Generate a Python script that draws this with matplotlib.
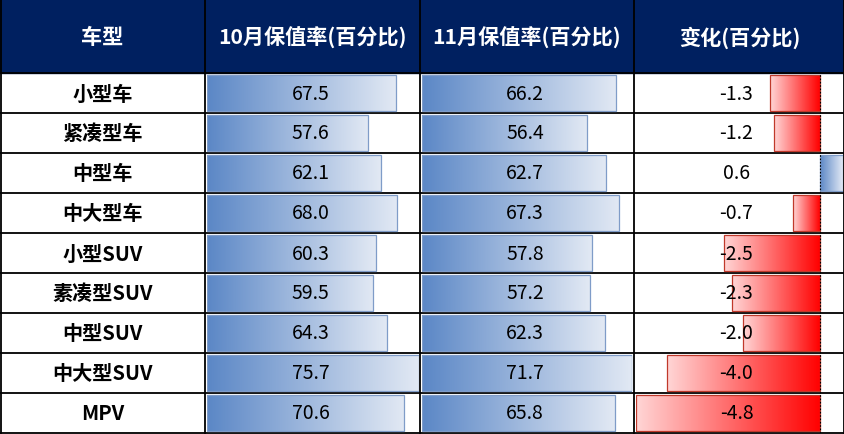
import matplotlib
matplotlib.use('Agg')
import matplotlib.pyplot as plt
import numpy as np
from matplotlib.colors import LinearSegmentedColormap
from matplotlib.patches import Rectangle

categories = ['小型车', '紧凑型车', '中型车', '中大型车', '小型SUV', '素凑型SUV', '中型SUV', '中大型SUV', 'MPV']
oct_rate = [67.5, 57.6, 62.1, 68.0, 60.3, 59.5, 64.3, 75.7, 70.6]
nov_rate = [66.2, 56.4, 62.7, 67.3, 57.8, 57.2, 62.3, 71.7, 65.8]
change = [-1.3, -1.2, 0.6, -0.7, -2.5, -2.3, -2.0, -4.0, -4.8]
headers = ['车型', '10月保值率(百分比)', '11月保值率(百分比)', '变化(百分比)']

plt.rcParams['font.family'] = ['Noto Sans CJK SC', 'DejaVu Sans']

W, H = 845, 435
HEADER_H = 74
ROW_H = 40
n = len(categories)
col_edges = [0, 205, 420, 634, 845]
NAVY = '#002060'

fig = plt.figure(figsize=(W / 100, H / 100), dpi=100)
bg = fig.add_axes([0, 0, 1, 1])
bg.set_xlim(0, W)
bg.set_ylim(H, 0)
bg.axis('off')

# header background
bg.add_patch(Rectangle((0, 0), W, HEADER_H, color=NAVY, zorder=0))

blue_cmap = LinearSegmentedColormap.from_list('b', ['#5B87C6', '#E2E9F4'])
red_cmap = LinearSegmentedColormap.from_list('r', ['#FF0000', '#FFD6D6'])
grad = np.linspace(0, 1, 256).reshape(1, -1)

table_bottom = HEADER_H + n * ROW_H


def bar_axes(x0, x1):
    return fig.add_axes([x0 / W, (H - table_bottom) / H, (x1 - x0) / W, (n * ROW_H) / H])


def draw_bars(ax, values, lo, hi):
    bars = ax.barh(range(n), values, height=0.89, left=0, color='none', edgecolor='none')
    for b, v in zip(bars, values):
        y0, h = b.get_y(), b.get_height()
        # gradient runs from the axis (0) outward to the bar end
        start, end = b.get_x(), b.get_x() + b.get_width()
        if v >= 0:
            cmap, edge = blue_cmap, '#7F9CC8'
        else:
            cmap, edge = red_cmap, '#C0392B'
        im = ax.imshow(grad, cmap=cmap, extent=(start, end, y0 + h, y0), aspect='auto',
                       interpolation='bicubic', zorder=1)
        im.set_clip_path(b)
        ax.add_patch(Rectangle((min(start, end), y0), abs(end - start), h, fill=False,
                               edgecolor=edge, lw=0.9, zorder=2))
    ax.set_xlim(lo, hi)
    ax.set_ylim(n - 0.5, -0.5)
    ax.axis('off')


ax1 = bar_axes(207, 418.6)
draw_bars(ax1, oct_rate, 0, max(oct_rate))
ax2 = bar_axes(422, 632.3)
draw_bars(ax2, nov_rate, 0, max(nov_rate))
ax3 = bar_axes(636, 843)
draw_bars(ax3, change, min(change), max(change))
ax3.axvline(0, color='black', ls=(0, (1.5, 1.5)), lw=0.8, zorder=3)

# grid lines
for i in range(n + 1):
    y = HEADER_H + i * ROW_H
    bg.plot([0, W], [y, y], color='black', lw=1.3, zorder=5)
for x in col_edges:
    xx = min(max(x, 0.6), W - 0.6)
    bg.plot([xx, xx], [0, table_bottom], color='black', lw=1.3, zorder=5)

# text overlay axes
tx = fig.add_axes([0, 0, 1, 1])
tx.set_xlim(0, W)
tx.set_ylim(H, 0)
tx.axis('off')
tx.patch.set_alpha(0)

centers = [(col_edges[i] + col_edges[i + 1]) / 2 for i in range(4)]
for c, htxt in zip(centers, headers):
    tx.text(c, HEADER_H / 2 + 1, htxt, color='white', fontsize=15.2, fontweight='bold',
            ha='center', va='center')

for i in range(n):
    yc = HEADER_H + ROW_H * i + ROW_H / 2
    tx.text(centers[0], yc, categories[i], fontsize=14.5, fontweight='bold', ha='center', va='center')
    tx.text(centers[1] - 2, yc, f'{oct_rate[i]:.1f}', fontsize=14, ha='center', va='center')
    tx.text(centers[2] - 2, yc, f'{nov_rate[i]:.1f}', fontsize=14, ha='center', va='center')
    tx.text(centers[3] - 3, yc, f'{change[i]:.1f}', fontsize=14, ha='center', va='center')

fig.savefig('out.png', dpi=100)
